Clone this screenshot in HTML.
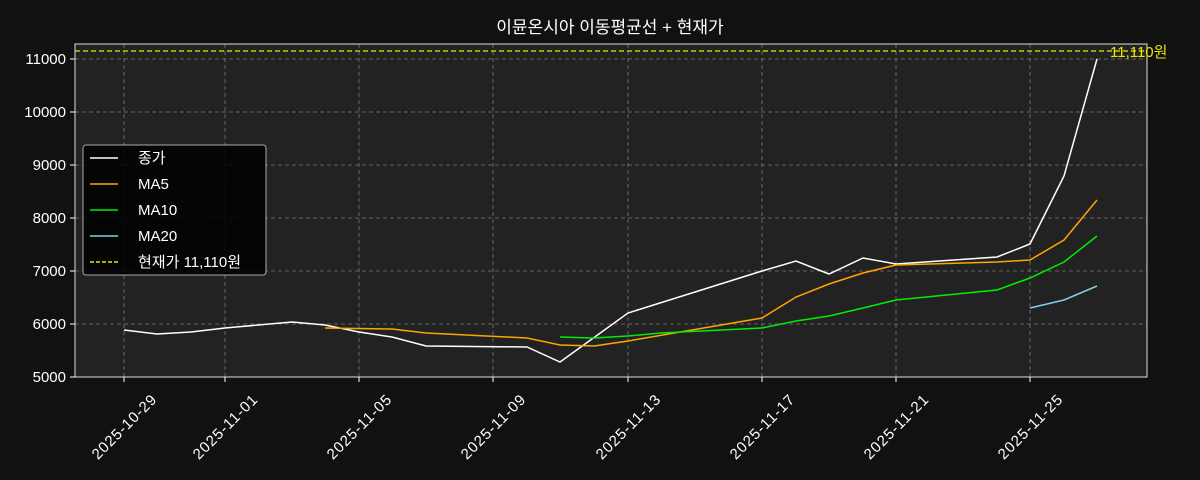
<!DOCTYPE html>
<html><head><meta charset="utf-8"><style>
body{margin:0;background:#111111;}
svg{display:block;font-family:"Liberation Sans","Noto Sans CJK KR",sans-serif;}
</style></head><body>
<svg width="1200" height="480" viewBox="0 0 1200 480">
<rect width="1200" height="480" fill="#111111"/>
<rect x="75" y="44" width="1072" height="333" fill="#222222"/>
<text x="610" y="33" fill="#ffffff" font-size="17" text-anchor="middle">이뮨온시아 이동평균선 + 현재가</text>
<g stroke="#777" stroke-dasharray="4,3" stroke-width="0.8">
<line x1="75" x2="1147" y1="59" y2="59"/><line x1="75" x2="1147" y1="112" y2="112"/><line x1="75" x2="1147" y1="165" y2="165"/><line x1="75" x2="1147" y1="218" y2="218"/><line x1="75" x2="1147" y1="271" y2="271"/><line x1="75" x2="1147" y1="324" y2="324"/>
<line y1="44" y2="377" x1="124" x2="124"/><line y1="44" y2="377" x1="225" x2="225"/><line y1="44" y2="377" x1="359" x2="359"/><line y1="44" y2="377" x1="493" x2="493"/><line y1="44" y2="377" x1="628" x2="628"/><line y1="44" y2="377" x1="762" x2="762"/><line y1="44" y2="377" x1="896" x2="896"/><line y1="44" y2="377" x1="1030" x2="1030"/>
</g>
<rect x="75" y="44" width="1072" height="333" fill="none" stroke="#ddd" stroke-width="1"/>
<g fill="#fff" font-size="15" text-anchor="end">
<text x="66" y="64">11000</text><text x="66" y="117">10000</text><text x="66" y="170">9000</text><text x="66" y="223">8000</text><text x="66" y="276">7000</text><text x="66" y="329">6000</text><text x="66" y="382">5000</text>
</g>
<g stroke="#fff"><line x1="70" x2="75" y1="59" y2="59"/><line x1="70" x2="75" y1="112" y2="112"/><line x1="70" x2="75" y1="165" y2="165"/><line x1="70" x2="75" y1="218" y2="218"/><line x1="70" x2="75" y1="271" y2="271"/><line x1="70" x2="75" y1="324" y2="324"/><line x1="70" x2="75" y1="377" y2="377"/>
<line y1="377" y2="382" x1="124" x2="124"/><line y1="377" y2="382" x1="225" x2="225"/><line y1="377" y2="382" x1="359" x2="359"/><line y1="377" y2="382" x1="493" x2="493"/><line y1="377" y2="382" x1="628" x2="628"/><line y1="377" y2="382" x1="762" x2="762"/><line y1="377" y2="382" x1="896" x2="896"/><line y1="377" y2="382" x1="1030" x2="1030"/></g>
<g fill="#fff" font-size="15" text-anchor="middle">
<text transform="translate(124,427) rotate(-45)" dy="5" textLength="84">2025-10-29</text>
<text transform="translate(225,427) rotate(-45)" dy="5" textLength="84">2025-11-01</text>
<text transform="translate(359,427) rotate(-45)" dy="5" textLength="84">2025-11-05</text>
<text transform="translate(493,427) rotate(-45)" dy="5" textLength="84">2025-11-09</text>
<text transform="translate(628,427) rotate(-45)" dy="5" textLength="84">2025-11-13</text>
<text transform="translate(762,427) rotate(-45)" dy="5" textLength="84">2025-11-17</text>
<text transform="translate(896,427) rotate(-45)" dy="5" textLength="84">2025-11-21</text>
<text transform="translate(1030,427) rotate(-45)" dy="5" textLength="84">2025-11-25</text>
</g>
<line x1="75" x2="1147" y1="51" y2="51" stroke="#e8e800" stroke-width="1.3" stroke-dasharray="5,3"/>
<text x="1110" y="57" fill="#e8e800" font-size="15">11,110원</text>
<polyline fill="none" stroke="#fff" stroke-width="1.5" points="124,330 157,334 191,332 225,328 292,322 325,325 359,332 392,337 426,346 527,347 560,362 628,313 762,271 796,261 829,274 863,258 896,264 997,257 1030,244 1064,176 1097,59"/>
<polyline fill="none" stroke="#ffa500" stroke-width="1.5" points="325,328 392,329 426,333 527,338 560,345 594,346 628,341 762,318 796,297 829,284 863,273 896,265 997,262 1030,260 1064,240 1097,200"/>
<polyline fill="none" stroke="#00ee00" stroke-width="1.5" points="560,337 594,338 628,336 661,333 762,328 796,321 829,316 863,308 896,300 997,290 1030,278 1064,262 1097,236"/>
<polyline fill="none" stroke="#87ceeb" stroke-width="1.5" points="1030,308 1064,300 1097,286"/>
<rect x="83" y="145" width="183" height="130" rx="3" fill="#000" fill-opacity="0.85" stroke="#aaa"/>
<g font-size="15" fill="#fff">
<line x1="90" x2="118" y1="158" y2="158" stroke="#fff" stroke-width="1.5"/><text x="138" y="163">종가</text>
<line x1="90" x2="118" y1="184" y2="184" stroke="#ffa500" stroke-width="1.5"/><text x="138" y="189">MA5</text>
<line x1="90" x2="118" y1="210" y2="210" stroke="#00ee00" stroke-width="1.5"/><text x="138" y="215">MA10</text>
<line x1="90" x2="118" y1="236" y2="236" stroke="#87ceeb" stroke-width="1.5"/><text x="138" y="241">MA20</text>
<line x1="90" x2="118" y1="262" y2="262" stroke="#e8e800" stroke-width="1.5" stroke-dasharray="4,2"/><text x="138" y="267">현재가 11,110원</text>
</g>
</svg>
</body></html>
